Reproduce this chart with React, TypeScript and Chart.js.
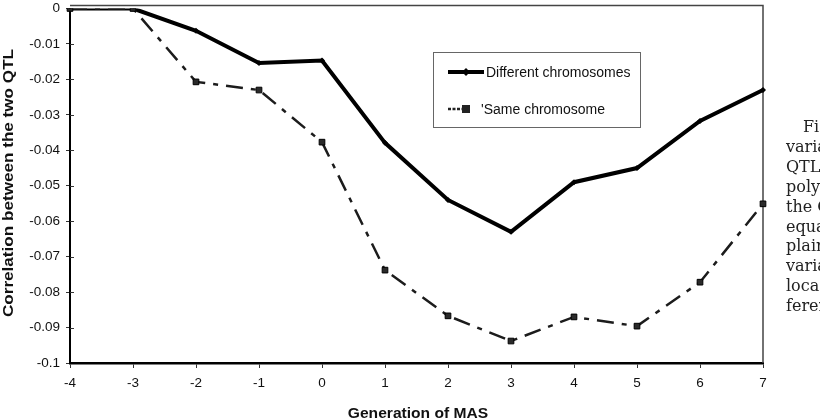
import React, { useEffect, useRef } from "react";
import { Chart, registerables } from "chart.js";

Chart.register(...registerables);

// Generation of marker-assisted selection (x axis categories)
const generations = ["-4", "-3", "-2", "-1", "0", "1", "2", "3", "4", "5", "6", "7"];

// Correlation between the two QTL, per generation
const differentChromosomes = [0, 0, -0.0063, -0.0154, -0.0147, -0.0379, -0.054, -0.063, -0.049, -0.045, -0.0317, -0.023];
const sameChromosome = [0, 0, -0.0207, -0.023, -0.0377, -0.0738, -0.0867, -0.0938, -0.087, -0.0896, -0.0772, -0.0551];

// Y axis tick labels, from 0 down to -0.1
const yTickLabels = ["0", "-0.01", "-0.02", "-0.03", "-0.04", "-0.05", "-0.06", "-0.07", "-0.08", "-0.09", "-0.1"];

const seriesNames = ["Different chromosomes", "'Same chromosome"];
const xTitle = "Generation of MAS";
const yTitle = "Correlation between the two QTL";

// Start of the neighbouring text column
const captionLines = ["Fig", "varia", "QTL", "poly", "the C", "equa", "plain", "varia", "loca", "feren"];

const SANS = '"Liberation Sans", Arial, sans-serif';
const SERIF = '"DejaVu Serif", serif';

const decorations = {
  id: "decorations",
  beforeDatasetsDraw(chart: Chart) {
    const { ctx, chartArea } = chart;
    ctx.save();
    // thin frame along the top and right of the plot area
    ctx.strokeStyle = "#444";
    ctx.lineWidth = 1.5;
    ctx.beginPath();
    ctx.moveTo(chartArea.left, chartArea.top - 3);
    ctx.lineTo(chartArea.right, chartArea.top - 3);
    ctx.lineTo(chartArea.right, chartArea.bottom);
    ctx.stroke();
    // inner half of the y tick marks
    const y = chart.scales.y;
    ctx.strokeStyle = "#333";
    ctx.lineWidth = 1;
    for (let i = 1; i < yTickLabels.length - 1; i++) {
      const py = Math.round(y.getPixelForValue(-i / 100)) + 0.5;
      ctx.beginPath();
      ctx.moveTo(chartArea.left, py);
      ctx.lineTo(chartArea.left + 4, py);
      ctx.stroke();
    }
    ctx.restore();
  },
  afterDraw(chart: Chart) {
    const { ctx } = chart;
    ctx.save();

    // axis titles
    ctx.fillStyle = "#111";
    ctx.textAlign = "center";
    ctx.textBaseline = "alphabetic";
    ctx.save();
    ctx.translate(418, 418);
    ctx.scale(1.04, 1);
    ctx.font = `bold 15px ${SANS}`;
    ctx.fillText(xTitle, 0, 0);
    ctx.restore();
    ctx.save();
    ctx.translate(13, 183);
    ctx.rotate(-Math.PI / 2);
    ctx.scale(1.18, 1);
    ctx.font = `bold 14.5px ${SANS}`;
    ctx.fillText(yTitle, 0, 0);
    ctx.restore();

    // legend box
    const lx = 433.5, ly = 52.5, lw = 207, lh = 75;
    ctx.fillStyle = "#fff";
    ctx.fillRect(lx, ly, lw, lh);
    ctx.strokeStyle = "#666";
    ctx.lineWidth = 1;
    ctx.strokeRect(lx, ly, lw, lh);

    // row 1: solid line with diamond
    ctx.strokeStyle = "#000";
    ctx.lineWidth = 4;
    ctx.beginPath();
    ctx.moveTo(448, 72);
    ctx.lineTo(484, 72);
    ctx.stroke();
    ctx.fillStyle = "#000";
    ctx.beginPath();
    ctx.moveTo(466, 68);
    ctx.lineTo(470, 72);
    ctx.lineTo(466, 76);
    ctx.lineTo(462, 72);
    ctx.closePath();
    ctx.fill();

    // row 2: dashed line with square
    ctx.strokeStyle = "#222";
    ctx.lineWidth = 2.5;
    ctx.setLineDash([3, 1.5]);
    ctx.beginPath();
    ctx.moveTo(448, 109);
    ctx.lineTo(462, 109);
    ctx.stroke();
    ctx.setLineDash([]);
    ctx.fillStyle = "#222";
    ctx.fillRect(462, 105, 8, 8);

    ctx.fillStyle = "#111";
    ctx.font = `14px ${SANS}`;
    ctx.textAlign = "left";
    ctx.textBaseline = "middle";
    ctx.fillText(seriesNames[0], 486, 73);
    ctx.fillText(seriesNames[1], 481, 110);

    // neighbouring text column
    ctx.font = `16px ${SERIF}`;
    ctx.textBaseline = "alphabetic";
    ctx.fillStyle = "#222";
    captionLines.forEach((line, i) => {
      const x = i === 0 ? 803 : 786;
      ctx.fillText(line, x, 132 + i * 19.9);
    });

    ctx.restore();
  },
};

export default function App() {
  const canvasRef = useRef<HTMLCanvasElement | null>(null);

  useEffect(() => {
    const canvas = canvasRef.current;
    if (!canvas) return;
    const chart = new Chart(canvas, {
      type: "line",
      data: {
        labels: generations,
        datasets: [
          {
            label: seriesNames[0],
            data: differentChromosomes,
            borderColor: "#000",
            borderWidth: 4,
            pointStyle: "rectRot",
            pointRadius: 3,
            pointBackgroundColor: "#000",
            pointBorderColor: "#000",
            pointBorderWidth: 0,
            tension: 0,
            order: 1,
          },
          {
            label: seriesNames[1],
            data: sameChromosome,
            borderColor: "#1c1c1c",
            borderWidth: 2.5,
            borderDash: [17, 8, 5, 8],
            pointStyle: "rect",
            pointRadius: 4,
            pointBackgroundColor: "#2a2a2a",
            pointBorderColor: "#000",
            pointBorderWidth: 1,
            tension: 0,
            order: 0,
          },
        ],
      },
      options: {
        responsive: false,
        animation: false,
        devicePixelRatio: 1,
        layout: { padding: { top: 8.5, right: 57, left: 0, bottom: 0 } },
        plugins: {
          legend: { display: false },
          tooltip: { enabled: false },
        },
        scales: {
          x: {
            type: "category",
            offset: false,
            grid: {
              drawOnChartArea: false,
              drawTicks: true,
              tickLength: 5,
              color: "#333",
            },
            border: { display: true, color: "#000", width: 2.5 },
            ticks: {
              color: "#111",
              font: { family: SANS, size: 13.5 },
              padding: 7,
              maxRotation: 0,
              autoSkip: false,
            },
            afterFit: (s: any) => {
              s.height = 57;
              s.paddingLeft = 0;
              s.paddingRight = 0;
            },
          },
          y: {
            type: "linear",
            min: -0.1,
            max: 0,
            grid: {
              drawOnChartArea: false,
              drawTicks: true,
              tickLength: 4,
              color: "#333",
            },
            border: { display: true, color: "#000", width: 2 },
            ticks: {
              stepSize: 0.01,
              color: "#111",
              font: { family: SANS, size: 13.5 },
              padding: 6,
              callback: (v: any) => yTickLabels[Math.round(-Number(v) * 100)] ?? "",
            },
            afterFit: (s: any) => {
              s.width = 70;
              s.paddingTop = 0;
              s.paddingBottom = 0;
            },
          },
        },
      },
      plugins: [decorations],
    });
    return () => chart.destroy();
  }, []);

  return (
    <div style={{ position: "absolute", left: 0, top: 0, width: 820, height: 420, background: "#fff" }}>
      <canvas ref={canvasRef} width={820} height={420} style={{ display: "block", width: 820, height: 420 }} />
    </div>
  );
}
